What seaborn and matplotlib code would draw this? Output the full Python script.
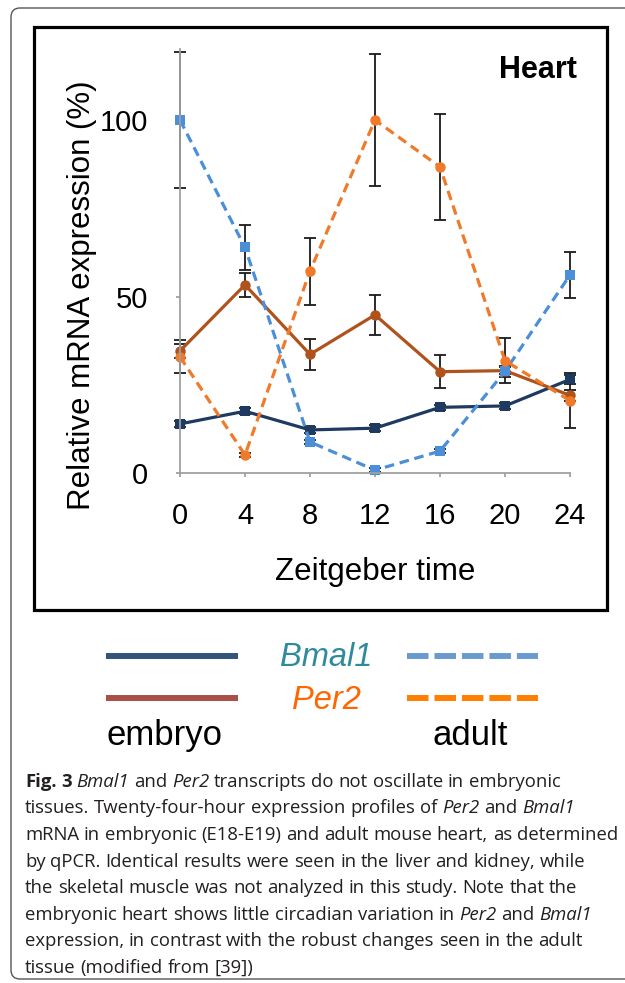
import re
import numpy as np
import pandas as pd
import matplotlib
matplotlib.use("Agg")
import matplotlib.pyplot as plt
from matplotlib.patches import FancyBboxPatch, Rectangle
import seaborn as sns

# ---------------------------------------------------------------------
# Data
# ---------------------------------------------------------------------
zt = [0, 4, 8, 12, 16, 20, 24]
emb_bmal1 = [13.9, 17.5, 12.2, 12.7, 18.6, 19.0, 26.5]
emb_per2 = [34.6, 53.3, 33.6, 44.8, 28.7, 29.0, 22.0]
adu_bmal1 = [100.0, 63.9, 8.8, 0.8, 6.2, 28.8, 56.1]
adu_per2 = [32.9, 5.1, 57.2, 100.0, 86.7, 31.8, 20.5]

err_emb_bmal1 = [0.8, 0.8, 0.8, 0.8, 0.8, 0.8, 1.2]
err_emb_per2 = [2.0, 3.4, 4.5, 5.7, 4.7, 1.0, 1.5]
err_adu_bmal1 = [19.4, 6.3, 0.5, 0.5, 0.5, 1.5, 6.6]
err_adu_per2 = [4.7, 0.5, 9.5, 18.6, 15.0, 6.4, 7.8]

series_names = ["embryo Bmal1", "embryo Per2", "adult Bmal1", "adult Per2"]
series_vals = [emb_bmal1, emb_per2, adu_bmal1, adu_per2]
series_errs = [err_emb_bmal1, err_emb_per2, err_adu_bmal1, err_adu_per2]

yticks = [0, 50, 100]

caption_lines = [
    "**Fig. 3** _Bmal1_ and _Per2_ transcripts do not oscillate in embryonic",
    "tissues. Twenty-four-hour expression profiles of _Per2_ and _Bmal1_",
    "mRNA in embryonic (E18-E19) and adult mouse heart, as determined",
    "by qPCR. Identical results were seen in the liver and kidney, while",
    "the skeletal muscle was not analyzed in this study. Note that the",
    "embryonic heart shows little circadian variation in _Per2_ and _Bmal1_",
    "expression, in contrast with the robust changes seen in the adult",
    "tissue (modified from [39])",
]

palette = {
    "embryo Bmal1": "#1f3a60",
    "embryo Per2": "#b0521c",
    "adult Bmal1": "#4b8fd8",
    "adult Per2": "#f07a2a",
}
dashes = {
    "embryo Bmal1": "",
    "embryo Per2": "",
    "adult Bmal1": (3, 1.8),
    "adult Per2": (3, 1.8),
}
markers = {
    "embryo Bmal1": "s",
    "embryo Per2": "o",
    "adult Bmal1": "s",
    "adult Per2": "o",
}

df = pd.concat(
    [pd.DataFrame({"zt": zt, "value": v, "series": n}) for n, v in zip(series_names, series_vals)],
    ignore_index=True,
)

# ---------------------------------------------------------------------
# Figure
# ---------------------------------------------------------------------
sns.set_theme(style="white")
plt.rcParams["font.family"] = ["Liberation Sans", "DejaVu Sans"]

W, H = 625, 983
fig = plt.figure(figsize=(W / 100, H / 100), dpi=100)

# background axes in pixel coordinates for frame, legend and caption
bg = fig.add_axes([0, 0, 1, 1], zorder=0)
bg.set_xlim(0, W)
bg.set_ylim(H, 0)
bg.axis("off")

bg.add_patch(FancyBboxPatch((11, 8), 700, 971, boxstyle="round,pad=0,rounding_size=9",
                            facecolor="none", edgecolor="#555555", lw=1.0))
bg.add_patch(Rectangle((34, 27), 573, 583, facecolor="none", edgecolor="black", lw=2.3))

# main chart
x0px, x1px = 170.25, 579.75
ybot, ytop = 473, 473 - 122 * 3.53
ax = fig.add_axes([x0px / W, 1 - ybot / H, (x1px - x0px) / W, (ybot - ytop) / H], zorder=2)
ax.set_facecolor("none")

for name, vals, errs in zip(series_names, series_vals, series_errs):
    ax.errorbar(zt, vals, yerr=errs, fmt="none", ecolor="#1a1a1a", elinewidth=1.3,
                capsize=4, capthick=1.3, zorder=1.5)

sns.lineplot(data=df, x="zt", y="value", hue="series", style="series",
             palette=palette, dashes=dashes, markers=markers, markersize=7.5,
             markeredgewidth=0, linewidth=2.3, legend=False, ax=ax, zorder=2)
for ln in ax.lines:
    ln.set_clip_on(False)

ax.set_xlim(-0.6, 24.6)
ax.set_ylim(0, 122)
ax.set_xticks(zt)
ax.set_yticks(yticks)
for s in ["top", "right"]:
    ax.spines[s].set_visible(False)
ax.spines["left"].set_position(("data", 0))
ax.spines["left"].set_bounds(0, 120)
ax.spines["bottom"].set_bounds(0, 24)
for s in ["left", "bottom"]:
    ax.spines[s].set_color("#a0a0a0")
    ax.spines[s].set_linewidth(1.3)
ax.tick_params(axis="x", direction="out", length=3, width=1.3, color="#a0a0a0",
               pad=18, labelsize=21, labelcolor="black", bottom=True)
ax.tick_params(axis="y", direction="out", length=3, width=1.3, color="#a0a0a0",
               pad=20, labelsize=21, labelcolor="black", left=True)
ax.set_xlabel("Zeitgeber time", fontsize=22.5, color="black")
ax.set_ylabel("Relative mRNA expression (%)", fontsize=22.5, color="black")
ax.xaxis.set_label_coords(0.5, (473 - 557) / (ybot - ytop))
ax.yaxis.set_label_coords((97 - x0px) / (x1px - x0px), (473 - 295) / (ybot - ytop))

bg.text(577, 78, "Heart", fontsize=22, fontweight="bold", ha="right", va="baseline", color="black")

# legend drawn by hand
bg.plot([106, 238], [656, 656], color="#33557a", lw=4.3, solid_capstyle="butt")
bg.plot([106, 238], [698, 698], color="#a84f48", lw=4.3, solid_capstyle="butt")
bg.plot([407, 538], [656, 656], color="#6a9bd0", lw=4.3, dashes=(3.6, 1.0), dash_capstyle="butt")
bg.plot([407, 538], [698, 698], color="#ff7f00", lw=4.3, dashes=(3.6, 1.0), dash_capstyle="butt")
bg.text(326, 666, "Bmal1", fontsize=23.5, style="italic", color="#2f8a9c", ha="center", va="baseline")
bg.text(326, 709, "Per2", fontsize=23.5, style="italic", color="#ff6600", ha="center", va="baseline")
bg.text(165, 745, "embryo", fontsize=25, color="black", ha="center", va="baseline")
bg.text(470, 745, "adult", fontsize=25, color="black", ha="center", va="baseline")

# caption with mixed styles
renderer = fig.canvas.get_renderer()
cap_font = ["Open Sans", "DejaVu Sans"]
cap_size = 13.3


def text_width(s, **kw):
    t = bg.text(0, 0, s, family=cap_font, fontsize=cap_size, **kw)
    w = t.get_window_extent(renderer).width
    t.remove()
    return w


space_w = text_width("a a") - text_width("aa")
y = 786.7
for line in caption_lines:
    x = 25
    for m in re.finditer(r"\*\*(.+?)\*\*|_(.+?)_|([^\s*_]+)", line):
        if m.group(1):
            kw, words = {"fontweight": "bold"}, m.group(1).split()
        elif m.group(2):
            kw, words = {"style": "italic"}, m.group(2).split()
        else:
            kw, words = {}, [m.group(3)]
        for w in words:
            t = bg.text(x, y, w, family=cap_font, fontsize=cap_size, color="#231f20",
                        ha="left", va="baseline", **kw)
            x += t.get_window_extent(renderer).width + space_w
    y += 26.6

fig.savefig("out.png", dpi=100)
